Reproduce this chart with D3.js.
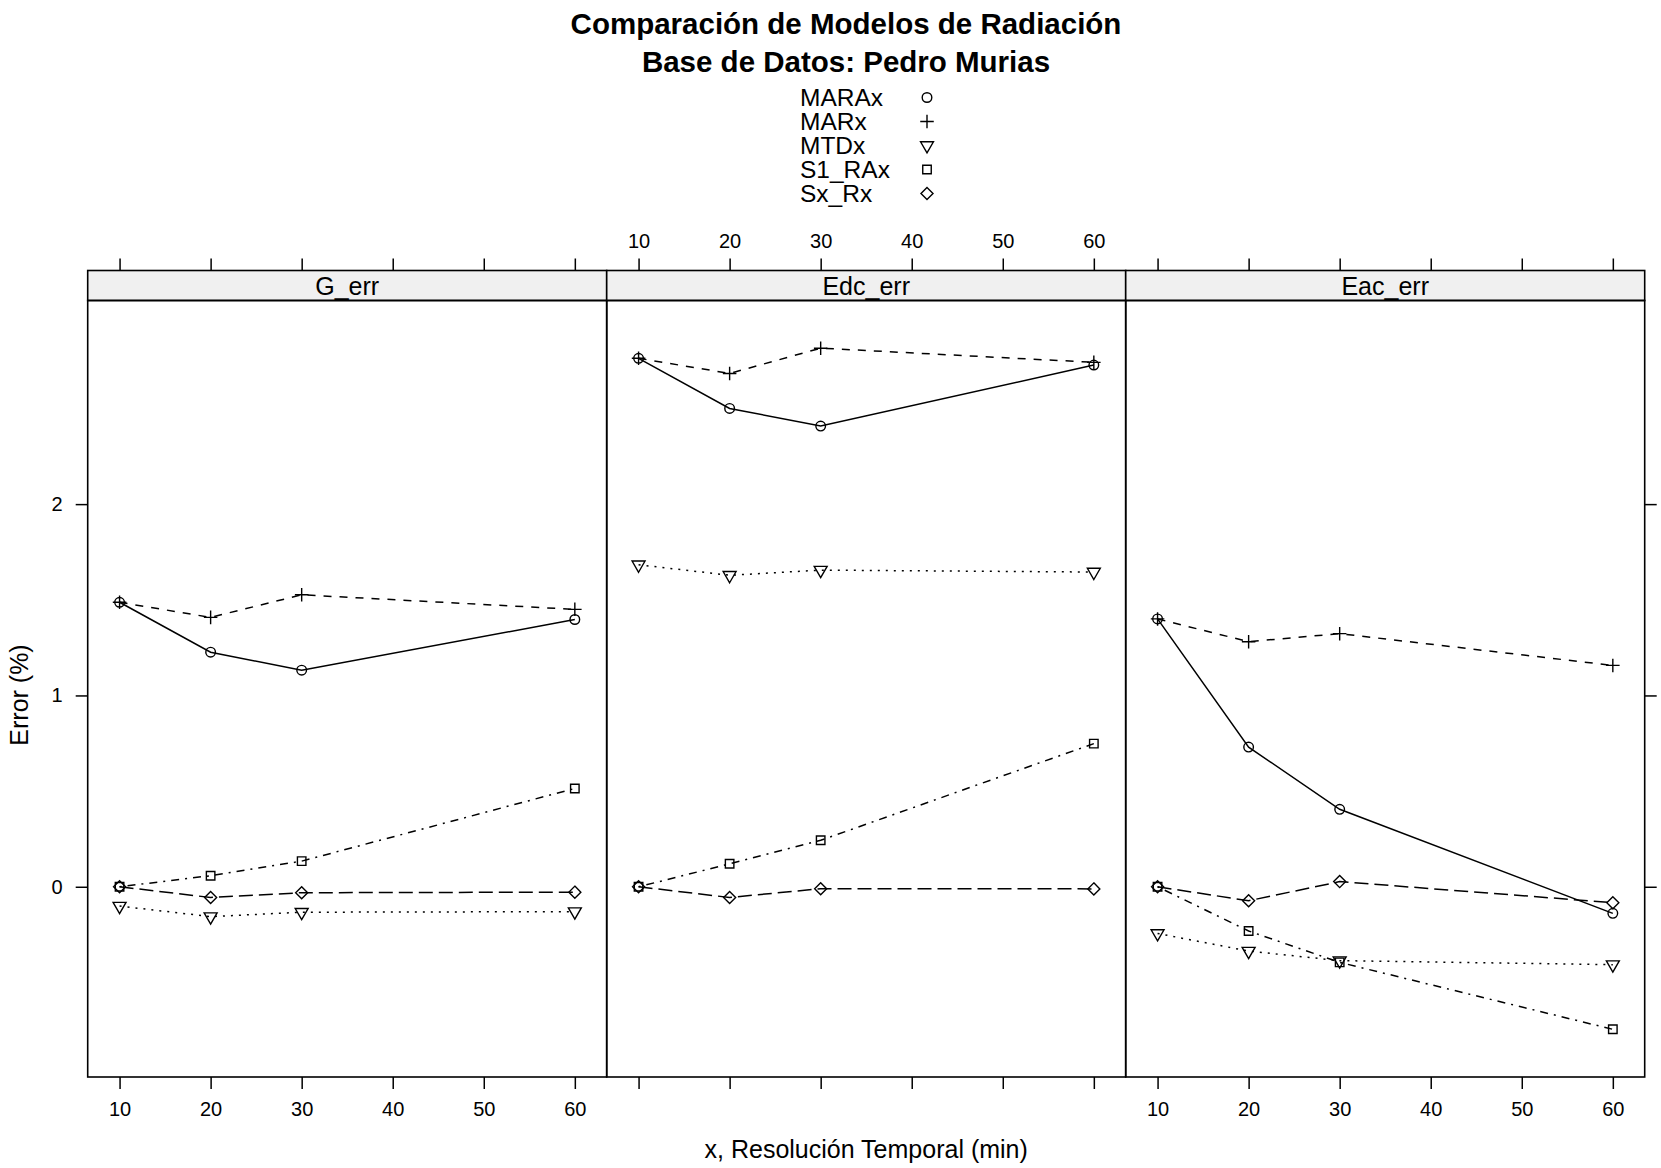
<!DOCTYPE html>
<html>
<head>
<meta charset="utf-8">
<script src="https://cdn.jsdelivr.net/npm/d3@7"></script>
<style>
  html, body { margin: 0; padding: 0; background: #ffffff; }
  svg { display: block; }
  text { font-family: "Liberation Sans", Arial, Helvetica, sans-serif; fill: #000; }
</style>
</head>
<body>
<svg id="chart" width="1661" height="1168"></svg>
<script>
// ---------------- data ----------------
const titleLines = ["Comparación de Modelos de Radiación", "Base de Datos: Pedro Murias"];
const panels = ["G_err", "Edc_err", "Eac_err"];
const seriesNames = ["MARAx", "MARx", "MTDx", "S1_RAx", "Sx_Rx"];
const xValues = [10, 20, 30, 60];
const xTicks = [10, 20, 30, 40, 50, 60];
const yTicks = [0, 1, 2];
const xLabel = "x, Resolución Temporal (min)";
const yLabel = "Error (%)";

// values per panel, per series (order of xValues)
const G_err = {
  MARAx:  [1.487, 1.226, 1.132, 1.397],
  MARx:   [1.487, 1.408, 1.526, 1.450],
  MTDx:   [-0.101, -0.156, -0.133, -0.130],
  S1_RAx: [0.000, 0.058, 0.134, 0.514],
  Sx_Rx:  [0.000, -0.056, -0.031, -0.028]
};
const Edc_err = {
  MARAx:  [2.762, 2.500, 2.408, 2.727],
  MARx:   [2.762, 2.683, 2.815, 2.741],
  MTDx:   [1.683, 1.628, 1.655, 1.645],
  S1_RAx: [0.000, 0.120, 0.243, 0.748],
  Sx_Rx:  [0.000, -0.056, -0.010, -0.011]
};
const Eac_err = {
  MARAx:  [1.400, 0.730, 0.405, -0.139],
  MARx:   [1.400, 1.281, 1.323, 1.157],
  MTDx:   [-0.244, -0.336, -0.386, -0.407],
  S1_RAx: [0.000, -0.231, -0.395, -0.745],
  Sx_Rx:  [0.000, -0.073, 0.027, -0.083]
};
const panelData = { G_err, Edc_err, Eac_err };

// ---------------- styles ----------------
const dashes = { MARAx: null, MARx: "8,8", MTDx: "2,6", S1_RAx: "2,6,8,6", Sx_Rx: "14,6" };
const R = 4.8;
const symPlus = { draw(c) { const a = R * 1.41; c.moveTo(-a, 0); c.lineTo(a, 0); c.moveTo(0, -a); c.lineTo(0, a); } };
const symCircle = { draw(c) { c.moveTo(R, 0); c.arc(0, 0, R, 0, 2 * Math.PI); c.closePath(); } };
const symTriDown = { draw(c) { const r = R * 1.555; c.moveTo(0, r); c.lineTo(r * 0.866, -r * 0.5); c.lineTo(-r * 0.866, -r * 0.5); c.closePath(); } };
const symSquare = { draw(c) { const h = R * 0.886; c.rect(-h, -h, 2 * h, 2 * h); } };
const symDiamond = { draw(c) { const h = R * 1.2533; c.moveTo(0, -h); c.lineTo(h, 0); c.lineTo(0, h); c.lineTo(-h, 0); c.closePath(); } };
const symbols = { MARAx: symCircle, MARx: symPlus, MTDx: symTriDown, S1_RAx: symSquare, Sx_Rx: symDiamond };

// ---------------- layout ----------------
const svg = d3.select("#chart");
const panelLeft = 87.7, panelW = 519, panelTop = 300.5, panelBottom = 1077, stripH = 30;
const FONT = 25, TICKFONT = 20;

// lattice-style 7% padded ranges
function padded(ext) { const d = ext[1] - ext[0]; return [ext[0] - 0.07 * d, ext[1] + 0.07 * d]; }
const allY = [];
panels.forEach(p => seriesNames.forEach(s => panelData[p][s].forEach(v => allY.push(v))));
const yScale = d3.scaleLinear().domain(padded(d3.extent(allY))).range([panelBottom, panelTop]);
const xDomain = padded(d3.extent(xValues));

// title
svg.selectAll("text.title").data(titleLines).join("text")
  .attr("class", "title")
  .attr("x", 846).attr("y", (d, i) => 34 + i * 38)
  .attr("text-anchor", "middle")
  .style("font-weight", "bold").style("font-size", "29.5px")
  .text(d => d);

// legend
const leg = svg.append("g");
seriesNames.forEach((s, i) => {
  const y = 97.5 + i * 24;
  leg.append("text").attr("x", 800).attr("y", y + 8.5).style("font-size", "24.5px").text(s);
  leg.append("path").attr("transform", `translate(927,${y})`)
    .attr("d", d3.symbol().type(symbols[s])())
    .attr("fill", "none").attr("stroke", "#000").attr("stroke-width", 1.4);
});

const line = d3.line();

panels.forEach((p, pi) => {
  const x0 = panelLeft + pi * panelW;
  const xScale = d3.scaleLinear().domain(xDomain).range([x0, x0 + panelW]);
  const g = svg.append("g");

  // strip
  g.append("rect").attr("x", x0).attr("y", panelTop - stripH).attr("width", panelW).attr("height", stripH)
    .attr("fill", "#f0f0f0").attr("stroke", "#000").attr("stroke-width", 1.6);
  g.append("text").attr("x", x0 + panelW / 2).attr("y", panelTop - 6)
    .attr("text-anchor", "middle").style("font-size", FONT + "px").text(p);

  // series lines + points
  seriesNames.forEach(s => {
    const pts = xValues.map((xv, i) => [xScale(xv), yScale(panelData[p][s][i])]);
    g.append("path").attr("d", line(pts)).attr("fill", "none").attr("stroke", "#000")
      .attr("stroke-width", 1.5).attr("stroke-dasharray", dashes[s]);
    g.selectAll(null).data(pts).join("path")
      .attr("transform", d => `translate(${d[0]},${d[1]})`)
      .attr("d", d3.symbol().type(symbols[s])())
      .attr("fill", "none").attr("stroke", "#000").attr("stroke-width", 1.4);
  });

  // panel border
  g.append("rect").attr("x", x0).attr("y", panelTop).attr("width", panelW).attr("height", panelBottom - panelTop)
    .attr("fill", "none").attr("stroke", "#000").attr("stroke-width", 1.6);

  // bottom axis
  const bottom = d3.axisBottom(xScale).tickValues(xTicks).tickSize(12).tickPadding(13).tickFormat(d3.format("d"));
  if (pi === 1) bottom.tickFormat(() => "");
  const gb = g.append("g").attr("transform", `translate(0,${panelBottom})`).call(bottom);
  // top axis (above strip)
  const top = d3.axisTop(xScale).tickValues(xTicks).tickSize(12).tickPadding(11).tickFormat(d3.format("d"));
  if (pi !== 1) top.tickFormat(() => "");
  const gt = g.append("g").attr("transform", `translate(0,${panelTop - stripH})`).call(top);
  [gb, gt].forEach(ax => {
    ax.select(".domain").remove();
    ax.selectAll(".tick line").attr("stroke", "#000").attr("stroke-width", 1.5);
    ax.selectAll(".tick text").style("font-size", TICKFONT + "px").attr("fill", "#000")
      .style("font-family", '"Liberation Sans", Arial, sans-serif');
  });

  if (pi === 0) {
    const left = d3.axisLeft(yScale).tickValues(yTicks).tickSize(12).tickPadding(13).tickFormat(d3.format("d"));
    const gl = g.append("g").attr("transform", `translate(${x0},0)`).call(left);
    gl.select(".domain").remove();
    gl.selectAll(".tick line").attr("stroke", "#000").attr("stroke-width", 1.5);
    gl.selectAll(".tick text").style("font-size", TICKFONT + "px").attr("fill", "#000")
      .style("font-family", '"Liberation Sans", Arial, sans-serif');
  }
  if (pi === panels.length - 1) {
    const right = d3.axisRight(yScale).tickValues(yTicks).tickSize(12).tickFormat(() => "");
    const gr = g.append("g").attr("transform", `translate(${x0 + panelW},0)`).call(right);
    gr.select(".domain").remove();
    gr.selectAll(".tick line").attr("stroke", "#000").attr("stroke-width", 1.5);
  }
});

// axis titles
svg.append("text").attr("x", panelLeft + 1.5 * panelW).attr("y", 1158)
  .attr("text-anchor", "middle").style("font-size", FONT + "px").text(xLabel);
svg.append("text").attr("transform", "translate(28,695) rotate(-90)")
  .attr("text-anchor", "middle").style("font-size", FONT + "px").text(yLabel);
</script>
</body>
</html>
